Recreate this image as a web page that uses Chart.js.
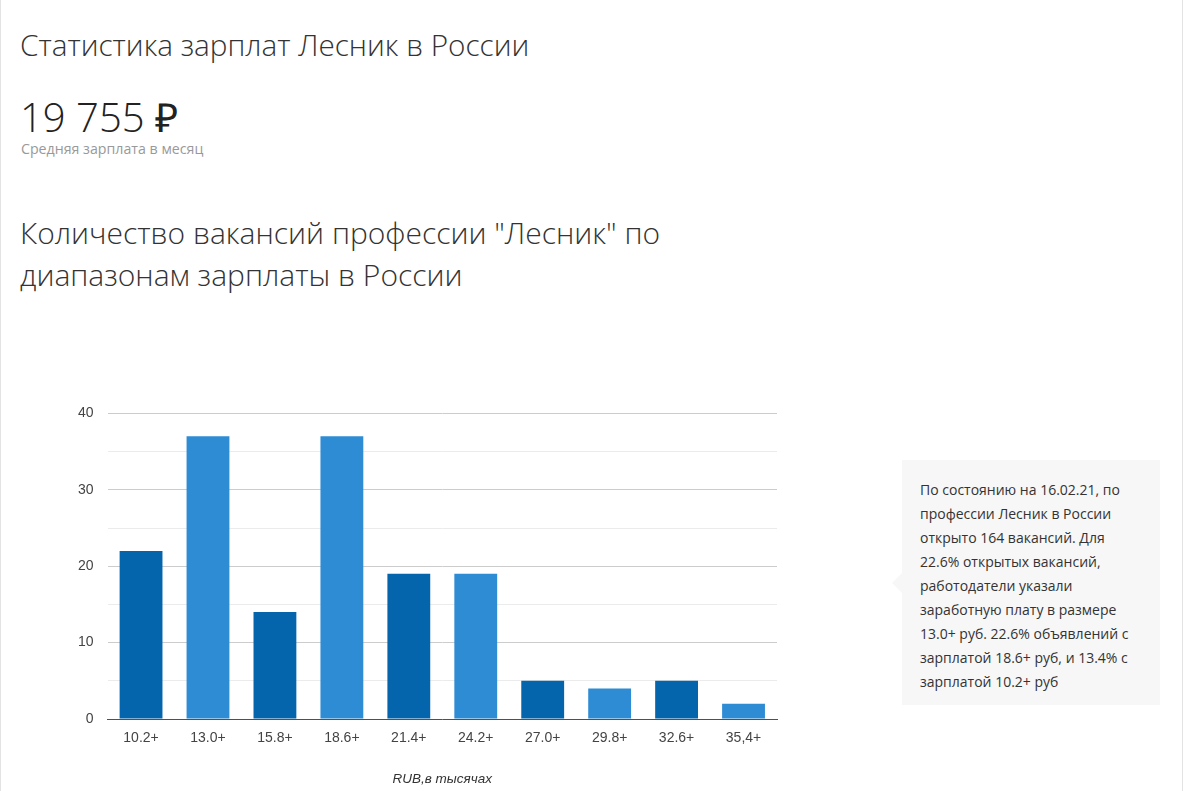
<!DOCTYPE html>
<html lang="ru">
<head>
<meta charset="utf-8">
<script src="https://cdn.jsdelivr.net/npm/chart.js@4/dist/chart.umd.min.js"></script>
<style>
  html, body { margin: 0; padding: 0; background: #fff; }
  body { width: 1187px; height: 791px; position: relative; overflow: hidden; font-family: "Open Sans", sans-serif; color: #333; }
  .card { position: absolute; left: 0; top: -2px; width: 1181px; height: 800px; border-left: 1px solid #e3e3e3; border-right: 1px solid #e3e3e3; }
  h1 { position: absolute; left: 20px; top: 24px; margin: 0; font-weight: 300; font-size: 29.7px; color: #333; white-space: nowrap; }
  .avg { position: absolute; left: 20px; top: 97px; font-weight: 300; font-size: 40px; color: #222; line-height: 1; }
  .avg-sub { position: absolute; left: 21px; top: 139px; font-size: 14.2px; color: #999; }
  h2 { position: absolute; left: 20px; top: 212px; margin: 0; font-weight: 300; font-size: 30px; line-height: 42px; color: #333; width: 680px; }
  .chart-box { position: absolute; left: 58px; top: 391px; width: 732px; height: 400px; }
  .note { position: absolute; left: 902px; top: 460px; width: 222px; height: 209px; padding: 18px 18px 18px 18px; background: #f7f7f7; font-size: 14px; line-height: 24px; color: #333; }
  .note:before { content: ""; position: absolute; left: -10px; top: 113px; border-style: solid; border-width: 10px 10px 10px 0; border-color: transparent #f7f7f7 transparent transparent; }
</style>
</head>
<body>
<div class="card"></div>
<h1>Статистика зарплат Лесник в России</h1>
<div class="avg">19 755 ₽</div>
<div class="avg-sub">Средняя зарплата в месяц</div>
<h2>Количество вакансий профессии "Лесник" по диапазонам зарплаты в России</h2>
<div class="chart-box"><canvas id="salaryChart"></canvas></div>
<div class="note">По состоянию на 16.02.21, по профессии Лесник в России открыто 164 вакансий. Для 22.6% открытых вакансий, работодатели указали заработную плату в размере 13.0+ руб. 22.6% объявлений с зарплатой 18.6+ руб, и 13.4% с зарплатой 10.2+ руб</div>

<script>
// Диапазоны зарплат (тыс. руб.) и количество вакансий
const salaryRanges = ['10.2+', '13.0+', '15.8+', '18.6+', '21.4+', '24.2+', '27.0+', '29.8+', '32.6+', '35,4+'];
const vacancyCounts = [22, 37, 14, 37, 19, 19, 5, 4, 5, 2];
const yTicks = [0, 10, 20, 30, 40];

// Цвета столбцов чередуются
const barColors = vacancyCounts.map((v, i) => i % 2 === 0 ? '#0565ac' : '#2e8cd5');

const ctx = document.getElementById('salaryChart').getContext('2d');
new Chart(ctx, {
  type: 'bar',
  data: {
    labels: salaryRanges,
    datasets: [{
      data: vacancyCounts,
      backgroundColor: barColors,
      borderWidth: 0,
      categoryPercentage: 1,
      barPercentage: 0.64
    }]
  },
  options: {
    responsive: true,
    maintainAspectRatio: false,
    animation: false,
    layout: { padding: { top: 0, right: 13, bottom: 4, left: 6 } },
    plugins: {
      legend: { display: false },
      tooltip: { enabled: false }
    },
    scales: {
      x: {
        grid: { display: false },
        border: { color: '#1f5d8f', width: 1 },
        ticks: { color: '#444', font: { family: 'Liberation Sans', size: 14 }, padding: 3 },
        title: {
          display: true,
          text: 'RUB,в тысячах',
          color: '#333',
          font: { family: 'Liberation Sans', size: 13.5, style: 'italic' },
          padding: { top: 21, bottom: 0 }
        }
      },
      y: {
        min: yTicks[0],
        max: yTicks[yTicks.length - 1],
        ticks: {
          stepSize: 5,
          color: '#444',
          padding: 14,
          font: { family: 'Liberation Sans', size: 14 },
          callback: value => yTicks.includes(value) ? value : ''
        },
        border: { display: false },
        grid: {
          drawTicks: false,
          color: c => c.tick && yTicks.includes(c.tick.value) ? '#cccccc' : '#ebebeb'
        }
      }
    }
  }
});
</script>
</body>
</html>
